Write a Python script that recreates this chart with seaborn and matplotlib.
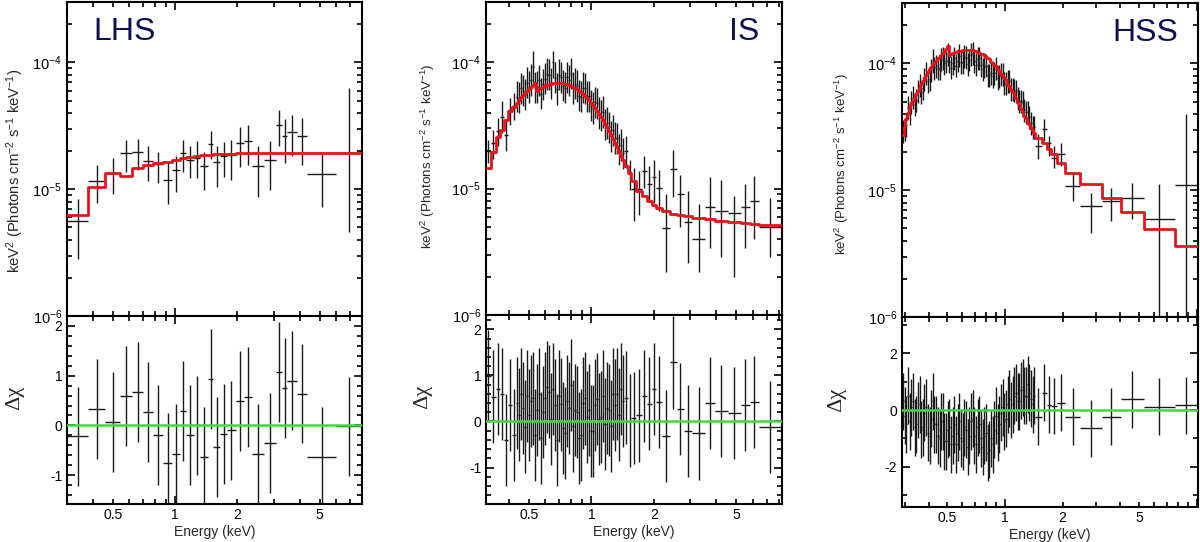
import numpy as np
import seaborn as sns
import matplotlib.pyplot as plt
from matplotlib.ticker import LogLocator, FuncFormatter, MultipleLocator, NullFormatter, LogFormatterSciNotation

# ---- LHS (flux values in units of 1e-5) ----
lhs_edges = [0.30, 0.38, 0.46, 0.54, 0.62, 0.70, 0.78, 0.87, 0.97, 1.06, 1.13, 1.23, 1.32, 1.44,
             1.53, 1.65, 1.78, 1.96, 2.15, 2.36, 2.69, 3.06, 3.30, 3.48, 3.90, 4.36, 5.98, 8.0]
lhs_flux = [0.564, 1.17, 1.34, 1.92, 1.95, 1.66, 1.57, 1.18, 1.41, 1.92, 1.71, 1.75, 1.53, 2.29,
            1.63, 1.82, 1.86, 2.30, 2.39, 1.53, 1.69, 3.20, 2.62, 2.82, 2.62, 1.32, 1.93]
lhs_lo = [0.283, 0.784, 0.918, 1.38, 1.41, 1.17, 1.12, 0.765, 0.952, 1.38, 1.22, 1.22, 0.988, 1.73,
          1.04, 1.25, 1.19, 1.49, 1.56, 0.875, 0.988, 2.18, 1.61, 1.82, 1.56, 0.729, 0.461]
lhs_hi = [0.833, 1.56, 1.76, 2.43, 2.49, 2.18, 1.95, 1.63, 1.84, 2.46, 2.18, 2.39, 1.95, 2.87,
          2.18, 2.35, 2.46, 3.09, 3.24, 2.18, 2.39, 4.19, 3.60, 3.82, 3.66, 1.91, 6.33]
lhs_model = [0.626, 1.04, 1.34, 1.28, 1.46, 1.56, 1.61, 1.65, 1.70, 1.75, 1.79, 1.83, 1.85, 1.87,
             1.89, 1.90, 1.91, 1.93, 1.93, 1.93, 1.93, 1.93, 1.93, 1.93, 1.93, 1.93, 1.93]
lhs_resid = [-0.22, 0.33, 0.07, 0.59, 0.67, 0.27, -0.19, -0.75, -0.57, 0.29, -0.19, 0.0, -0.63, 0.93,
             -0.43, -0.17, -0.10, 0.49, 0.57, -0.57, -0.35, 1.07, 0.75, 0.90, 0.64, -0.63, -0.02]

# ---- IS ----
is_edges = [0.310, 0.326, 0.346, 0.362, 0.379, 0.396, 0.414, 0.433,
            0.442, 0.452, 0.462, 0.473, 0.483, 0.494, 0.505, 0.517, 0.528, 0.540,
            0.552, 0.565, 0.578, 0.591, 0.604, 0.618, 0.632, 0.646, 0.660, 0.675,
            0.690, 0.706, 0.722, 0.738, 0.754, 0.771, 0.789, 0.807, 0.825, 0.844,
            0.863, 0.882, 0.902, 0.922, 0.943, 0.964, 0.986, 1.008, 1.031, 1.054,
            1.077, 1.101, 1.126, 1.152, 1.178, 1.204, 1.231, 1.259, 1.287, 1.316,
            1.346, 1.376, 1.405, 1.434,
            1.499, 1.561, 1.644, 1.751, 1.851, 1.957, 2.054, 2.188, 2.382, 2.574,
            2.794, 3.054, 3.543, 3.958, 4.540, 5.27, 5.80, 6.41, 8.31]
is_flux = [1.97, 2.30, 2.84, 3.69, 2.68, 4.17, 4.54,
           5.36, 5.26, 6.23, 5.97, 5.53, 6.89, 6.39, 7.25, 9.2, 6.35,
           6.38, 7.20, 5.65, 6.71, 7.44, 8.09, 7.97, 6.83, 10.0, 7.54,
           6.14, 7.99, 7.58, 6.52, 6.31, 7.59, 7.19, 8.13, 6.25, 6.75,
           6.50, 5.43, 5.34, 6.28, 6.22, 5.37, 5.37, 4.54, 4.34, 4.82,
           4.73, 3.96, 3.79, 4.04, 3.21, 3.31, 3.06, 2.59, 2.90, 2.51,
           2.50, 2.04, 2.21, 1.90,
           2.00, 1.33, 1.00, 0.99, 1.37, 1.09, 1.24, 1.02, 0.49, 1.44,
           0.90, 0.54, 0.40, 0.71, 0.67, 0.64, 0.71, 0.80, 0.50]
is_lo = [1.60, 1.72, 2.16, 2.76, 1.97, 3.21, 3.52,
         4.03, 3.95, 4.68, 4.49, 4.16, 5.18, 4.80, 5.45, 6.9, 4.77,
         4.80, 5.41, 4.25, 5.05, 5.59, 6.08, 5.99, 5.14, 7.5, 5.67,
         4.62, 6.01, 5.70, 4.90, 4.74, 5.71, 5.41, 6.11, 4.70, 5.08,
         4.89, 4.08, 4.02, 4.72, 4.68, 4.04, 4.04, 3.41, 3.26, 3.62,
         3.56, 2.98, 2.85, 3.04, 2.41, 2.49, 2.30, 1.95, 2.18, 1.89,
         1.88, 1.53, 1.66, 1.43,
         1.46, 0.98, 0.55, 0.62, 1.01, 0.79, 0.77, 0.66, 0.22, 0.86,
         0.50, 0.26, 0.22, 0.34, 0.29, 0.20, 0.34, 0.40, 0.29]
is_hi = [2.44, 2.89, 3.62, 4.91, 3.52, 5.22, 5.72,
         7.13, 7.00, 8.29, 7.94, 7.35, 9.16, 8.50, 9.64, 12.2, 8.45,
         8.49, 9.58, 7.51, 8.92, 9.90, 10.76, 10.60, 9.08, 12.3, 10.03,
         8.17, 10.63, 10.08, 8.67, 8.39, 10.09, 9.56, 10.81, 8.31, 8.98,
         8.65, 7.22, 7.10, 8.35, 8.27, 7.14, 7.14, 6.04, 5.77, 6.41,
         6.29, 5.27, 5.04, 5.37, 4.27, 4.40, 4.07, 3.44, 3.86, 3.34,
         3.33, 2.71, 2.94, 2.53,
         2.63, 1.70, 1.46, 1.37, 1.82, 1.50, 1.70, 1.41, 0.90, 2.04,
         1.29, 0.95, 0.76, 1.24, 1.16, 0.87, 1.08, 1.27, 0.85]
is_model = [1.46, 1.95, 2.57, 2.93, 3.52, 4.09, 4.43,
            4.80, 5.05, 5.28, 5.50, 5.70, 5.92, 6.15, 6.40, 6.65, 6.90,
            5.95, 6.10, 6.22, 6.35, 6.48, 6.58, 6.66, 6.74, 6.80, 6.84,
            6.86, 6.86, 6.84, 6.80, 6.76, 6.70, 6.62, 6.52, 6.42, 6.30,
            6.15, 5.98, 5.80, 5.62, 5.42, 5.22, 5.01, 4.80, 4.59, 4.37,
            4.14, 3.91, 3.69, 3.47, 3.26, 3.05, 2.85, 2.66, 2.46, 2.28,
            2.12, 1.96, 1.82, 1.68,
            1.52, 1.33, 1.14, 0.953, 0.870, 0.794, 0.747, 0.703, 0.662, 0.634,
            0.619, 0.604, 0.589, 0.575, 0.558, 0.545, 0.535, 0.528, 0.513]
is_resid = [0.99, 0.54, 0.71, 0.59, -0.40, 0.36, -0.29,
            0.40, 0.15, 0.60, 0.30, -0.11, 0.55, 0.14, 0.45, 0.50, -0.30,
            0.25, 0.60, -0.35, 0.20, 0.50, 0.75, 0.65, 0.05, 0.70, 0.35,
            -0.40, 0.55, 0.37, -0.15, -0.25, 0.45, 0.30, 0.80, -0.10, 0.25,
            0.20, -0.35, -0.30, 0.40, 0.50, 0.10, 0.25, -0.20, -0.20, 0.35,
            0.48, 0.05, 0.10, 0.55, -0.05, 0.30, 0.25, -0.10, 0.60, 0.35,
            0.60, 0.15, 0.70, 0.45,
            0.52, 0.02, 0.08, 0.13, 0.56, 0.39, 0.70, 0.43, -0.32, 1.28,
            0.27, -0.20, -0.26, 0.40, 0.22, 0.18, 0.35, 0.42, -0.12]

# ---- HSS ----
hss_edges = [0.290, 0.296, 0.302, 0.308, 0.3145, 0.321, 0.327, 0.334, 0.341, 0.348,
             0.355, 0.362, 0.369, 0.376, 0.384, 0.392, 0.400, 0.408, 0.416, 0.424,
             0.433, 0.442, 0.451, 0.460, 0.469, 0.478, 0.488, 0.498, 0.508, 0.518,
             0.529, 0.539, 0.550, 0.561, 0.573, 0.584, 0.596, 0.608, 0.620, 0.633,
             0.646, 0.659, 0.672, 0.685, 0.699, 0.713, 0.728, 0.743, 0.758, 0.773,
             0.789, 0.805, 0.821, 0.837, 0.854, 0.871, 0.889, 0.907, 0.925, 0.944,
             0.963, 0.982, 1.002, 1.022, 1.043, 1.064, 1.086, 1.108, 1.130, 1.153,
             1.176, 1.200, 1.224, 1.249, 1.274, 1.300, 1.326, 1.353, 1.380, 1.408,
             1.437, 1.556, 1.652, 1.734, 1.863, 2.059, 2.464, 3.195, 4.013, 5.31, 7.70, 10.18]
hss_flux = [2.93, 3.02, 3.27, 4.49, 4.07, 4.90, 5.37, 4.75, 5.14, 6.05,
            6.69, 5.93, 6.40, 7.54, 8.29, 7.25, 7.49, 8.88, 10.4, 9.20,
            9.52, 9.09, 9.15, 10.7, 11.0, 10.0, 10.4, 11.9, 10.3, 9.28,
            10.0, 11.0, 9.59, 10.5, 11.5, 10.3, 10.1, 11.3, 11.1, 9.85,
            10.7, 11.7, 12.0, 10.4, 9.75, 10.9, 11.0, 9.69, 9.00, 9.53,
            9.59, 8.05, 8.06, 8.41, 7.92, 8.39, 9.09, 7.62, 7.92, 8.15,
            8.25, 7.01, 6.93, 7.19, 7.24, 6.20, 6.23, 6.17, 6.06, 5.26,
            5.05, 5.05, 4.97, 4.29, 4.14, 4.13, 3.76, 3.37, 3.13, 3.13,
            2.23, 3.02, 2.37, 1.81, 1.92, 1.08, 0.752, 0.824, 0.876, 0.598, 1.095]
hss_lo = [2.37, 2.45, 2.65, 3.64, 3.30, 3.97, 4.35, 3.85, 4.16, 4.90,
          5.42, 4.80, 5.18, 6.11, 6.71, 5.87, 6.07, 7.19, 8.46, 7.45,
          7.71, 7.36, 7.41, 8.68, 8.94, 8.12, 8.45, 9.60, 8.37, 7.52,
          8.10, 8.93, 7.77, 8.54, 9.33, 8.33, 8.22, 9.19, 9.02, 7.98,
          8.65, 9.51, 9.68, 8.46, 7.90, 8.83, 8.91, 7.85, 7.29, 7.72,
          7.77, 6.52, 6.53, 6.82, 6.41, 6.80, 7.36, 6.17, 6.41, 6.60,
          6.68, 5.68, 5.61, 5.82, 5.86, 5.02, 5.05, 5.00, 4.91, 4.26,
          4.09, 4.09, 4.03, 3.47, 3.35, 3.35, 3.05, 2.73, 2.54, 2.53,
          1.75, 2.45, 1.86, 1.51, 1.55, 0.824, 0.464, 0.574, 0.591, 0.01, 0.01]
hss_hi = [3.60, 3.71, 4.02, 5.52, 5.01, 6.03, 6.61, 5.84, 6.32, 7.44,
          8.23, 7.29, 7.87, 9.27, 10.2, 8.92, 9.21, 10.9, 12.9, 11.3,
          11.7, 11.2, 11.3, 13.2, 13.6, 12.3, 12.8, 14.6, 12.7, 11.4,
          12.3, 13.6, 11.8, 13.0, 14.2, 12.6, 12.5, 14.0, 13.7, 12.1,
          13.1, 14.4, 14.7, 12.8, 12.0, 13.4, 13.5, 11.9, 11.1, 11.7,
          11.8, 9.90, 9.92, 10.3, 9.74, 10.3, 11.2, 9.38, 9.74, 10.0,
          10.1, 8.62, 8.52, 8.84, 8.91, 7.63, 7.66, 7.59, 7.45, 6.47,
          6.21, 6.21, 6.11, 5.28, 5.09, 5.08, 4.62, 4.14, 3.85, 3.85,
          2.76, 3.62, 2.68, 2.23, 2.37, 1.38, 0.958, 1.05, 1.15, 1.115, 3.96]
hss_model = [2.75, 3.15, 3.62, 4.05, 4.42, 4.80, 5.05, 5.38, 5.70, 6.05,
             6.42, 6.85, 7.25, 7.70, 8.12, 8.56, 9.02, 9.45, 9.82, 10.2,
             10.55, 10.95, 11.25, 11.65, 12.0, 12.6, 13.1, 13.7, 11.7, 11.9,
             12.05, 12.22, 12.30, 12.45, 12.52, 12.65, 12.75, 12.85, 12.88, 12.89,
             12.86, 12.76, 12.72, 12.58, 12.50, 12.35, 12.20, 11.92, 11.78, 11.48,
             11.32, 10.98, 10.78, 10.35, 10.15, 9.70, 9.48, 9.00, 8.78, 8.32,
             8.08, 7.62, 7.37, 6.90, 6.66, 6.20, 5.98, 5.56, 5.35, 4.94,
             4.75, 4.37, 4.21, 3.87, 3.73, 3.43, 3.32, 3.10, 3.00, 2.82,
             2.60, 2.34, 2.13, 1.92, 1.65, 1.36, 1.13, 0.876, 0.679, 0.499, 0.364]
hss_resid = [0.3, -0.2, -0.5, 0.5, -0.4, 0.1, 0.3, -0.6, -0.5, 0.0,
             0.2, -0.7, -0.6, -0.1, 0.1, -0.8, -0.9, -0.3, 0.3, -0.5,
             -0.5, -0.9, -1.0, -0.4, -0.4, -1.1, -1.1, -0.7, -0.6, -1.2,
             -0.9, -0.5, -1.2, -0.8, -0.4, -1.0, -1.1, -0.6, -0.7, -1.3,
             -0.9, -0.4, -0.3, -0.9, -1.2, -0.6, -0.5, -1.0, -1.3, -0.9,
             -0.8, -1.5, -1.4, -1.0, -1.2, -0.7, -0.2, -0.8, -0.5, -0.1,
             0.1, -0.4, -0.3, 0.2, 0.4, 0.0, 0.2, 0.5, 0.6, 0.3,
             0.3, 0.7, 0.8, 0.5, 0.5, 0.9, 0.6, 0.4, 0.2, 0.5,
             -0.24, 0.6, 0.18, 0.14, 0.26, -0.24, -0.65, -0.24, 0.38, 0.12, 0.16]

sns.set_theme(style="ticks")
plt.rcParams['font.family'] = ['Liberation Sans', 'DejaVu Sans']
plt.rcParams['mathtext.fontset'] = 'custom'
plt.rcParams['mathtext.rm'] = 'Liberation Sans'
plt.rcParams['mathtext.it'] = 'Liberation Sans:italic'
plt.rcParams['axes.unicode_minus'] = False

W, H = 1200, 542
fig = plt.figure(figsize=(W / 100, H / 100), dpi=100)

RED = '#e3151b'
GREEN = '#3ddc3d'
NAVY = '#0b1055'
SCALE = 1e-5


def energy_fmt(v, pos):
    for t, s in [(0.5, '0.5'), (1, '1'), (2, '2'), (5, '5')]:
        if abs(v - t) < 1e-6:
            return s
    return ''


def style_axis(ax):
    for sp in ax.spines.values():
        sp.set_linewidth(1.5)
        sp.set_color('black')
    ax.tick_params(which='both', direction='in', top=True, right=True, colors='black',
                   labelsize=10, width=1.2)
    ax.tick_params(which='major', length=6)
    ax.tick_params(which='minor', length=3.5)


def draw_state(box, edges, flux, lo, hi, model, resid, xlim, rlim, rmajor, rminor,
               name, name_x, name_ha, lab_pos, lab_size, chi_pos):
    x0, x1, ytop, ymid, ybot = box
    ax = fig.add_axes([x0 / W, (H - ymid) / H, (x1 - x0) / W, (ymid - ytop) / H])
    axr = fig.add_axes([x0 / W, (H - ybot) / H, (x1 - x0) / W, (ybot - ymid) / H])

    e = np.array(edges)
    cen = np.sqrt(e[:-1] * e[1:])
    f = np.array(flux) * SCALE
    flo = np.array(lo) * SCALE
    fhi = np.array(hi) * SCALE
    xerr = [cen - e[:-1], e[1:] - cen]

    # spectrum + stepped model
    ax.errorbar(cen, f, xerr=xerr, yerr=[f - flo, fhi - f], fmt='none',
                ecolor='#1a1a1a', elinewidth=1.0, capsize=0, zorder=2)
    step_y = np.append(np.array(model) * SCALE, model[-1] * SCALE)
    sns.lineplot(x=e, y=step_y, ax=ax, color=RED, linewidth=2.0,
                 drawstyle='steps-post', sort=False, estimator=None, zorder=3)
    ax.set_xscale('log')
    ax.set_yscale('log')
    ax.set_xlim(*xlim)
    ax.set_ylim(1e-6, 3e-4)
    ax.yaxis.set_major_locator(LogLocator(base=10, numticks=10))
    ax.yaxis.set_minor_locator(LogLocator(base=10, subs=np.arange(2, 10), numticks=20))
    ax.yaxis.set_major_formatter(LogFormatterSciNotation())
    ax.yaxis.set_minor_formatter(NullFormatter())
    ax.xaxis.set_major_locator(LogLocator(base=10, numticks=10))
    ax.xaxis.set_minor_locator(LogLocator(base=10, subs=np.arange(2, 10), numticks=20))
    ax.xaxis.set_major_formatter(NullFormatter())
    ax.xaxis.set_minor_formatter(NullFormatter())
    style_axis(ax)
    ax.tick_params(axis='y', labelsize=10.5)
    ax.set_ylabel(r'keV$^{2}$ (Photons cm$^{-2}$ s$^{-1}$ keV$^{-1}$)', fontsize=lab_size,
                  va='center')
    ax.yaxis.set_label_coords(*lab_pos)
    ax.set_xlabel('')
    ax.text(name_x, 0.905, name, transform=ax.transAxes, ha=name_ha, va='center',
            fontsize=23, color=NAVY)

    # residuals
    axr.errorbar(cen, resid, xerr=xerr, yerr=1.0, fmt='none',
                 ecolor='#1a1a1a', elinewidth=1.0, capsize=0, zorder=2)
    sns.lineplot(x=[xlim[0], xlim[1]], y=[0, 0], ax=axr, color=GREEN, linewidth=1.8, zorder=3)
    axr.set_xscale('log')
    axr.set_xlim(*xlim)
    axr.set_ylim(*rlim)
    axr.yaxis.set_major_locator(MultipleLocator(rmajor))
    axr.yaxis.set_minor_locator(MultipleLocator(rminor))
    axr.yaxis.set_major_formatter(FuncFormatter(lambda v, p: '%d' % round(v)))
    axr.xaxis.set_major_locator(LogLocator(base=10, numticks=10))
    axr.xaxis.set_minor_locator(LogLocator(base=10, subs=np.arange(2, 10), numticks=20))
    axr.xaxis.set_major_formatter(FuncFormatter(energy_fmt))
    axr.xaxis.set_minor_formatter(FuncFormatter(energy_fmt))
    style_axis(axr)
    axr.tick_params(axis='x', which='both', pad=3)
    axr.set_xlabel('Energy (keV)', fontsize=10, labelpad=2)
    axr.set_ylabel('Δχ', fontsize=16, family=['Liberation Serif', 'DejaVu Serif'], va='center')
    axr.yaxis.set_label_coords(*chi_pos)


draw_state((67, 362, 2, 316, 504), lhs_edges, lhs_flux, lhs_lo, lhs_hi, lhs_model, lhs_resid,
           (0.30, 8.0), (-1.58, 2.2), 1, 0.2, 'LHS', 0.088, 'left',
           (-0.176, 0.462), 10.7, (-0.176, 0.564))
draw_state((486, 782, 2, 315, 504), is_edges, is_flux, is_lo, is_hi, is_model, is_resid,
           (0.31, 8.31), (-1.79, 2.31), 1, 0.2, 'IS', 0.922, 'right',
           (-0.196, 0.508), 9.7, (-0.213, 0.566))
draw_state((902, 1198, 3, 317, 507), hss_edges, hss_flux, hss_lo, hss_hi, hss_model, hss_resid,
           (0.29, 10.18), (-3.41, 3.27), 2, 1, 'HSS', 0.932, 'right',
           (-0.203, 0.487), 9.5, (-0.22, 0.563))

fig.savefig('out.png', dpi=100)
